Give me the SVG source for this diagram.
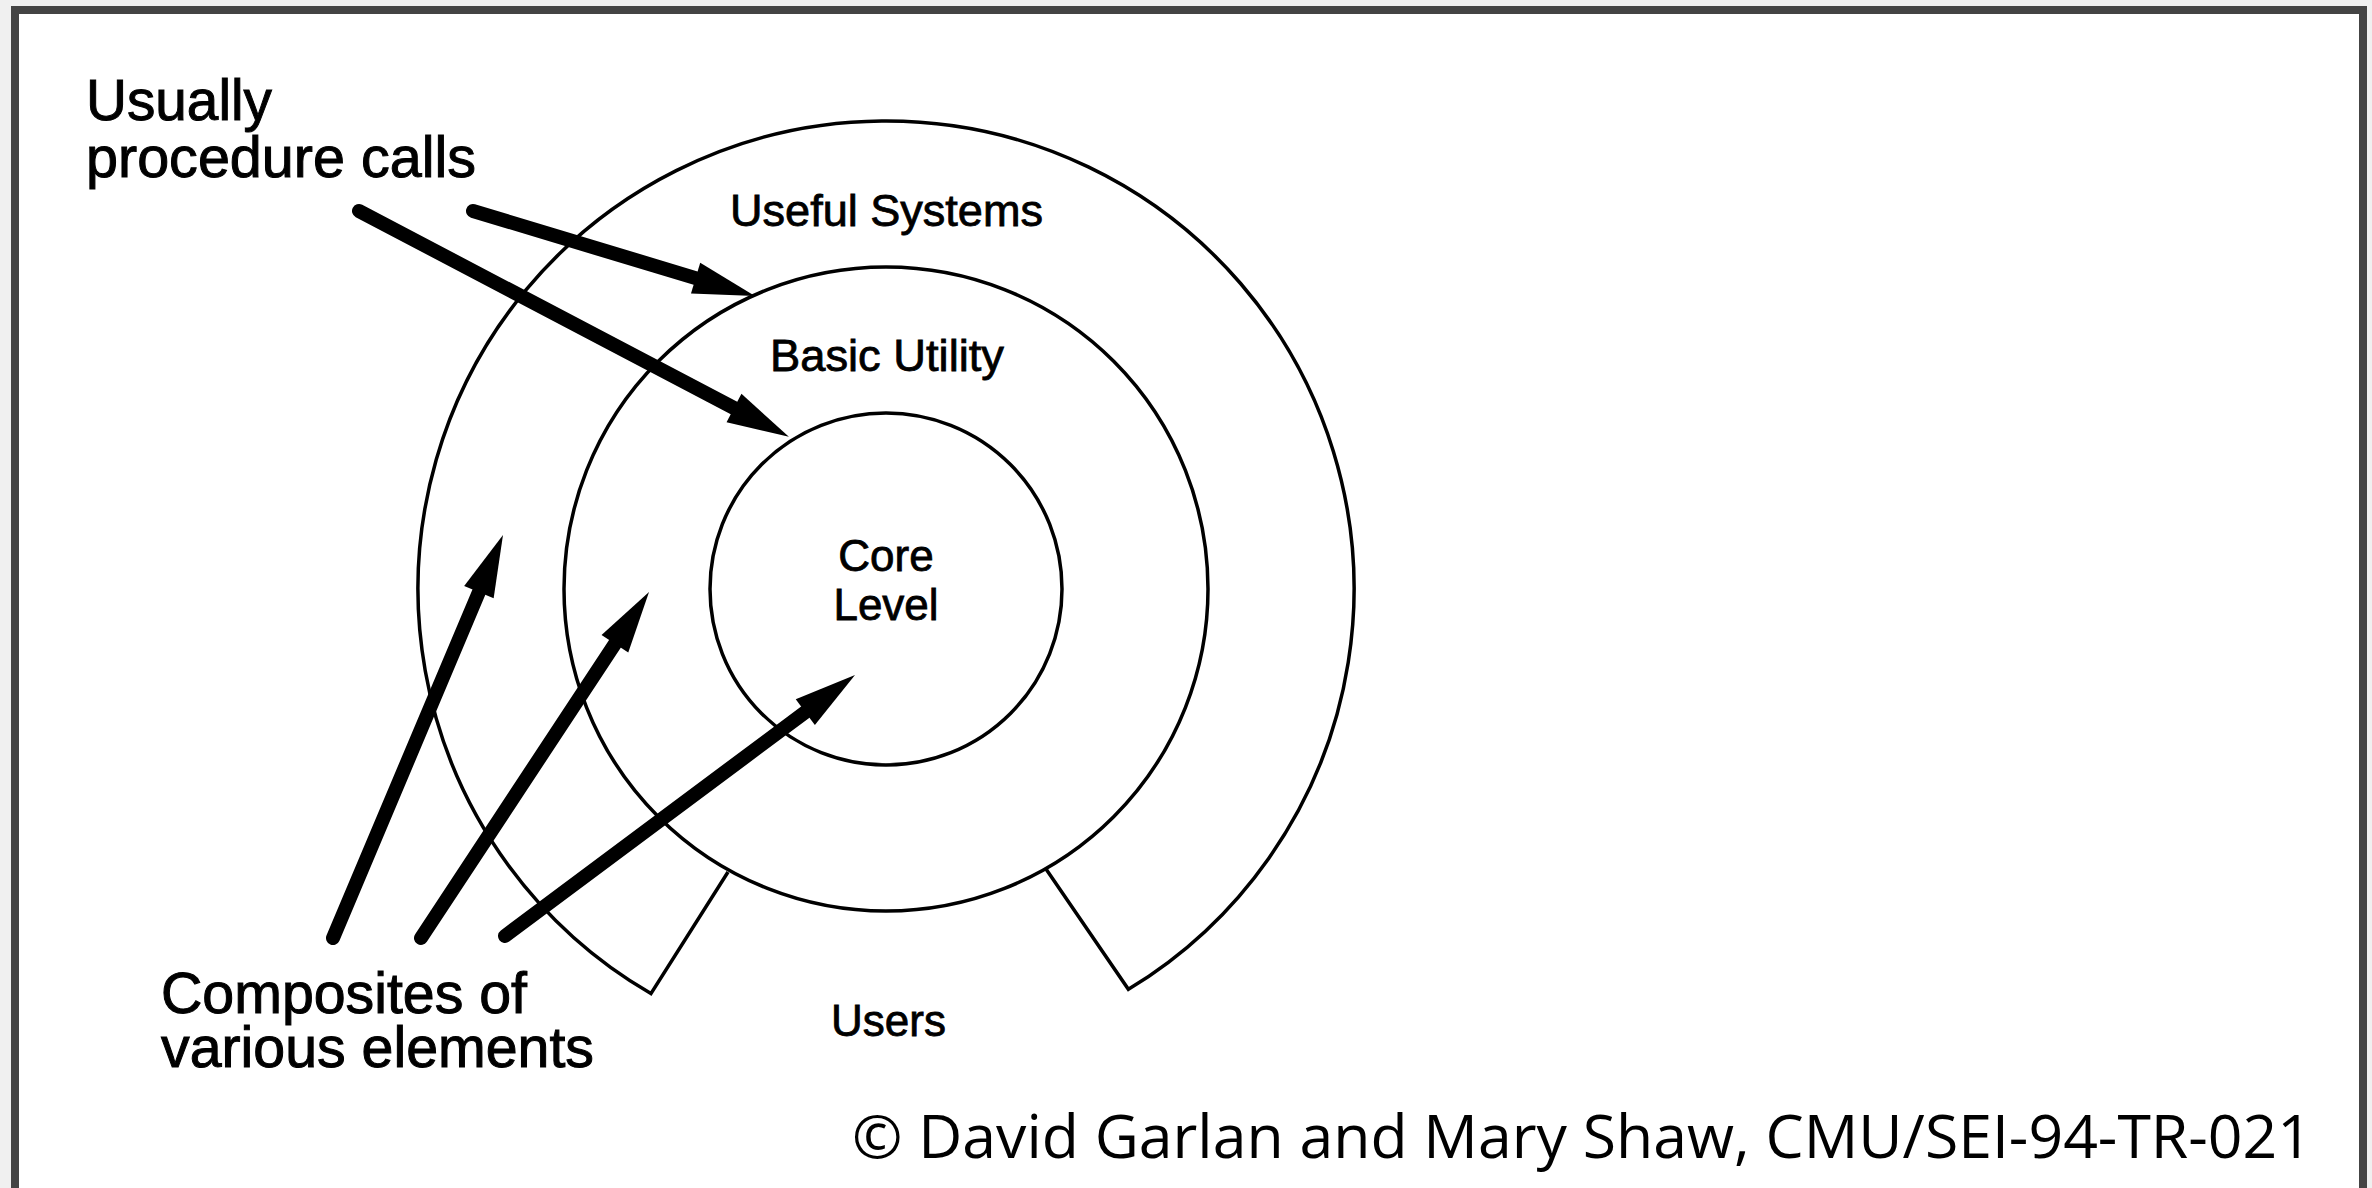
<svg xmlns="http://www.w3.org/2000/svg" width="2372" height="1188" viewBox="0 0 2372 1188">
  <style>
    .ring { fill: none; stroke: #000; stroke-width: 3.5; }
    .shaft { fill: none; stroke: #000; stroke-width: 14; stroke-linecap: round; marker-end: url(#head); }
    .big { font-family: "Liberation Sans", Arial, sans-serif; font-size: 57px; fill: #000; stroke: #000; stroke-width: 1; }
    .lbl { font-family: "Liberation Sans", Arial, sans-serif; font-size: 44px; fill: #000; stroke: #000; stroke-width: 0.8; }
    .mid { text-anchor: middle; }
    .credit { font-family: "Open Sans", "Noto Sans", sans-serif; font-size: 60px; fill: #000; }
  </style>
  <defs>
    <marker id="head" markerUnits="userSpaceOnUse" markerWidth="70" markerHeight="36" refX="0" refY="16" orient="auto" overflow="visible">
      <path d="M0,0 L62,16 L0,32 z" fill="#000"/>
    </marker>
  </defs>

  <!-- page frame -->
  <rect x="0" y="0" width="2372" height="1188" fill="#f0f0f0"/>
  <rect x="11" y="6" width="2356" height="1200" fill="#444"/>
  <rect x="19" y="14" width="2340" height="1200" fill="#fff"/>

  <!-- layers -->
  <g id="users-layer">
    <path class="ring" d="M728,872 L650.9,993.6 A468,468 0 1 1 1128.4,989.3 L1046,869"/>
    <text class="lbl" x="831" y="1036">Users</text>
  </g>
  <g id="useful-systems">
    <circle class="ring" cx="886" cy="589" r="322"/>
    <text class="lbl" x="730" y="226" textLength="313" lengthAdjust="spacingAndGlyphs">Useful Systems</text>
  </g>
  <g id="basic-utility">
    <text class="lbl" x="770" y="371" textLength="234" lengthAdjust="spacingAndGlyphs">Basic Utility</text>
  </g>
  <g id="core-level">
    <circle class="ring" cx="886" cy="589" r="176"/>
    <text class="lbl mid" x="886" y="571">Core</text>
    <text class="lbl mid" x="886" y="620">Level</text>
  </g>

  <!-- callouts -->
  <g id="procedure-calls-label">
    <text class="big" x="86" y="120" textLength="186" lengthAdjust="spacingAndGlyphs">Usually</text>
    <text class="big" x="86" y="177" textLength="390" lengthAdjust="spacingAndGlyphs">procedure calls</text>
  </g>
  <g id="composites-label">
    <text class="big" x="161" y="1013" textLength="366" lengthAdjust="spacingAndGlyphs">Composites of</text>
    <text class="big" x="161" y="1067" textLength="433" lengthAdjust="spacingAndGlyphs">various elements</text>
  </g>

  <!-- connectors -->
  <g id="connectors">
    <path class="shaft" d="M359,211 L734,408"/>
    <path class="shaft" d="M473,211 L695.6,278.1"/>
    <path class="shaft" d="M333,938 L478.9,592.1"/>
    <path class="shaft" d="M421,938 L614.9,643.8"/>
    <path class="shaft" d="M505,936 L805.3,712.1"/>
  </g>

  <text class="credit" x="852" y="1158" textLength="1460" lengthAdjust="spacingAndGlyphs">© David Garlan and Mary Shaw, CMU/SEI-94-TR-021</text>
</svg>
